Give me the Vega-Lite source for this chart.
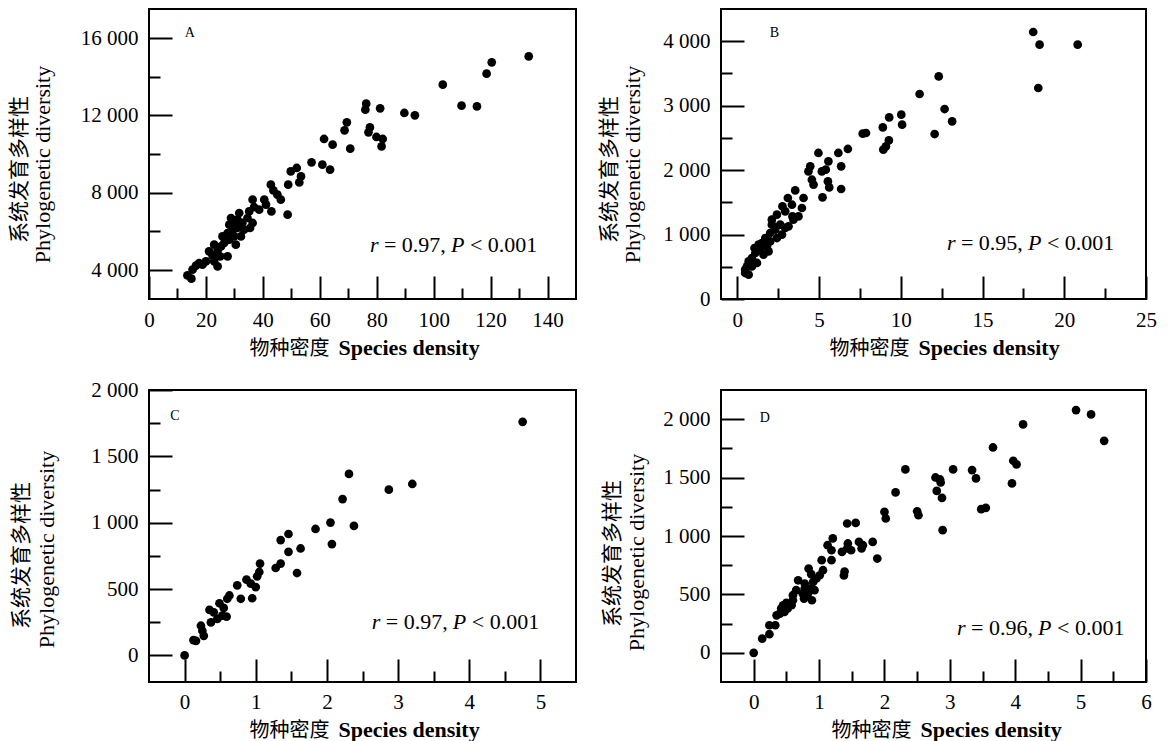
{
  "$schema": "https://vega.github.io/schema/vega-lite/v6.json",
  "background": "white",
  "padding": {"left": 7, "top": 8, "right": 5, "bottom": 5},
  "bounds": "flush",
  "columns": 2,
  "spacing": {"row": 91, "column": 145},
  "config": {
    "view": {"stroke": "black", "strokeWidth": 2},
    "axis": {"domain": false, "grid": false, "tickColor": "black", "tickWidth": 2, "labelColor": "black", "labelFont": "Liberation Serif", "labelFontSize": 21, "labelFlush": false, "labelOverlap": false, "labelBound": false, "titleColor": "black", "titleFontWeight": "normal", "titleFont": "Liberation Serif", "titleFontSize": 21},
    "text": {"color": "black", "font": "Liberation Serif"}
  },
  "concat": [
        {
          "width": 427, "height": 290,
          "resolve": {"axis": {"x": "independent", "y": "independent"}},
          "layer": [
            {
              "data": {"values": [{"x":133.4,"y":15050},{"x":120.4,"y":14740},{"x":118.6,"y":14155},{"x":103.2,"y":13586},{"x":109.8,"y":12500},{"x":115.2,"y":12460},{"x":89.7,"y":12122},{"x":93.4,"y":11998},{"x":81.2,"y":12360},{"x":76.3,"y":12604},{"x":76.0,"y":12293},{"x":69.5,"y":11636},{"x":68.7,"y":11222},{"x":77.6,"y":11377},{"x":77.1,"y":11119},{"x":79.9,"y":10881},{"x":82.1,"y":10777},{"x":81.7,"y":10394},{"x":70.7,"y":10276},{"x":61.5,"y":10777},{"x":64.5,"y":10482},{"x":57.1,"y":9567},{"x":60.9,"y":9448},{"x":63.6,"y":9189},{"x":49.8,"y":9101},{"x":51.9,"y":9277},{"x":53.4,"y":8842},{"x":52.8,"y":8532},{"x":48.9,"y":8413},{"x":42.8,"y":8413},{"x":43.7,"y":8118},{"x":45.1,"y":7896},{"x":46.3,"y":7637},{"x":48.7,"y":6861},{"x":40.5,"y":7637},{"x":41.1,"y":7378},{"x":43.0,"y":7032},{"x":36.4,"y":7637},{"x":31.7,"y":6949},{"x":35.2,"y":7032},{"x":36.9,"y":7257},{"x":38.7,"y":7120},{"x":34.6,"y":6690},{"x":36.4,"y":6432},{"x":35.5,"y":6173},{"x":33.4,"y":6085},{"x":28.2,"y":6344},{"x":29.9,"y":6432},{"x":31.1,"y":6173},{"x":29.3,"y":5997},{"x":27.6,"y":5914},{"x":29.9,"y":5739},{"x":32.3,"y":5739},{"x":28.2,"y":5568},{"x":30.5,"y":5309},{"x":26.4,"y":5397},{"x":25.3,"y":5221},{"x":24.1,"y":5014},{"x":22.9,"y":5309},{"x":21.1,"y":4962},{"x":22.3,"y":4740},{"x":27.6,"y":4704},{"x":24.1,"y":4187},{"x":20.0,"y":4445},{"x":17.6,"y":4362},{"x":16.5,"y":4223},{"x":15.3,"y":4016},{"x":13.5,"y":3721},{"x":14.9,"y":3550},{"x":25.8,"y":5739},{"x":28.8,"y":6690},{"x":31.1,"y":6602},{"x":32.8,"y":6432},{"x":25.0,"y":4704},{"x":18.8,"y":4274},{"x":22.9,"y":4445}]},
              "mark": {"type": "circle", "size": 76, "color": "black", "opacity": 1},
              "encoding": {
                "x": {"field": "x", "type": "quantitative", "scale": {"domain": [0, 150], "nice": false, "zero": false},
                  "axis": {"orient": "bottom", "values": [0,20,40,60,80,100,120,140], "format": "d", "tickSize": -23, "labelPadding": 33, "title": "物种密度", "titleFont": "Noto Sans CJK SC", "titleFontSize": 20, "titleX": 180, "titleY": 55, "titleAlign": "right", "titleBaseline": "alphabetic"}},
                "y": {"field": "y", "type": "quantitative", "scale": {"domain": [2500, 17500], "nice": false, "zero": false},
                  "axis": {"orient": "left", "values": [4000,8000,12000,16000], "labelExpr": "replace(format(datum.value, ','), ',', ' ')", "tickSize": -23, "labelPadding": 34, "title": "系统发育多样性", "titleFont": "Noto Sans CJK SC", "titleFontSize": 21, "titleX": -130, "titleY": 160, "titleAlign": "center", "titleBaseline": "middle"}}
              }
            },
            {
              "data": {"values": [{"x": 12.6, "y": 16054, "t": "A"}]},
              "mark": {"type": "text", "align": "left", "baseline": "alphabetic", "fontSize": 14, "font": "Liberation Serif", "color": "black"},
              "encoding": {
                "x": {"field": "x", "type": "quantitative", "scale": {"domain": [0, 150], "nice": false, "zero": false},
                  "axis": {"orient": "bottom", "values": [10,30,50,70,90,110,130], "tickSize": -11, "labels": false, "title": "Species density", "titleFont": "Liberation Serif", "titleFontWeight": "bold", "titleFontSize": 22, "titleX": 189, "titleY": 55, "titleAlign": "left", "titleBaseline": "alphabetic"}},
                "y": {"field": "y", "type": "quantitative", "scale": {"domain": [2500, 17500], "nice": false, "zero": false},
                  "axis": {"orient": "left", "values": [6000,10000,14000], "tickSize": -11, "labels": false, "title": "Phylogenetic diversity", "titleFont": "Liberation Serif", "titleFontSize": 22, "titleX": -107, "titleY": 155, "titleAlign": "center", "titleBaseline": "middle"}},
                "text": {"field": "t"}
              }
            },
            {
              "data": {"values": [{"x": 77.6, "y": 4950}]},
              "encoding": {
                "x": {"field": "x", "type": "quantitative", "scale": {"domain": [0, 150], "nice": false, "zero": false}, "axis": null},
                "y": {"field": "y", "type": "quantitative", "scale": {"domain": [2500, 17500], "nice": false, "zero": false}, "axis": null}
              },
              "layer": [
                {"mark": {"type": "text", "text": "r", "align": "left", "baseline": "alphabetic", "fontSize": 22, "fontStyle": "italic", "font": "Liberation Serif", "color": "black"}},
                {"mark": {"type": "text", "text": "= 0.97,", "dx": 14, "align": "left", "baseline": "alphabetic", "fontSize": 22, "font": "Liberation Serif", "color": "black"}},
                {"mark": {"type": "text", "text": "P", "dx": 81, "align": "left", "baseline": "alphabetic", "fontSize": 22, "fontStyle": "italic", "font": "Liberation Serif", "color": "black"}},
                {"mark": {"type": "text", "text": "< 0.001", "dx": 100, "align": "left", "baseline": "alphabetic", "fontSize": 22, "font": "Liberation Serif", "color": "black"}}
              ]
            }
          ]
        },
        {
          "width": 425, "height": 290,
          "resolve": {"axis": {"x": "independent", "y": "independent"}},
          "layer": [
            {
              "data": {"values": [{"x":18.10,"y":4143},{"x":18.49,"y":3946},{"x":20.82,"y":3946},{"x":18.41,"y":3274},{"x":12.32,"y":3454},{"x":11.15,"y":3181},{"x":12.68,"y":2948},{"x":13.14,"y":2756},{"x":12.07,"y":2560},{"x":10.03,"y":2860},{"x":10.08,"y":2705},{"x":9.29,"y":2818},{"x":8.90,"y":2663},{"x":9.27,"y":2461},{"x":8.93,"y":2317},{"x":9.09,"y":2368},{"x":7.67,"y":2565},{"x":7.87,"y":2576},{"x":4.96,"y":2266},{"x":5.57,"y":2136},{"x":6.18,"y":2266},{"x":6.76,"y":2328},{"x":6.35,"y":2058},{"x":4.46,"y":2058},{"x":4.35,"y":1980},{"x":5.17,"y":1980},{"x":5.41,"y":2007},{"x":4.56,"y":1851},{"x":4.66,"y":1774},{"x":5.54,"y":1825},{"x":5.62,"y":1732},{"x":6.35,"y":1707},{"x":5.21,"y":1577},{"x":3.54,"y":1685},{"x":3.09,"y":1567},{"x":4.05,"y":1567},{"x":2.76,"y":1437},{"x":3.34,"y":1463},{"x":3.95,"y":1412},{"x":2.93,"y":1360},{"x":3.37,"y":1282},{"x":3.74,"y":1282},{"x":3.43,"y":1231},{"x":2.11,"y":1153},{"x":2.62,"y":1153},{"x":2.93,"y":1102},{"x":2.32,"y":1075},{"x":2.01,"y":1024},{"x":2.73,"y":998},{"x":2.42,"y":946},{"x":2.01,"y":894},{"x":1.50,"y":869},{"x":1.81,"y":816},{"x":1.40,"y":765},{"x":1.10,"y":714},{"x":1.60,"y":687},{"x":0.89,"y":636},{"x":0.69,"y":583},{"x":1.20,"y":559},{"x":0.59,"y":506},{"x":0.48,"y":403},{"x":0.69,"y":377},{"x":2.11,"y":1231},{"x":2.42,"y":1308},{"x":3.13,"y":1127},{"x":1.30,"y":843},{"x":1.05,"y":791},{"x":0.48,"y":455},{"x":0.89,"y":506},{"x":1.71,"y":946},{"x":1.91,"y":739}]},
              "mark": {"type": "circle", "size": 76, "color": "black", "opacity": 1},
              "encoding": {
                "x": {"field": "x", "type": "quantitative", "scale": {"domain": [-1, 25], "nice": false, "zero": false},
                  "axis": {"orient": "bottom", "values": [0,5,10,15,20,25], "format": "d", "tickSize": -23, "labelPadding": 33, "title": "物种密度", "titleFont": "Noto Sans CJK SC", "titleFontSize": 20, "titleX": 188, "titleY": 55, "titleAlign": "right", "titleBaseline": "alphabetic"}},
                "y": {"field": "y", "type": "quantitative", "scale": {"domain": [0, 4500], "nice": false, "zero": false},
                  "axis": {"orient": "left", "values": [0,1000,2000,3000,4000], "labelExpr": "replace(format(datum.value, ','), ',', ' ')", "tickSize": -23, "labelPadding": 34, "title": "系统发育多样性", "titleFont": "Noto Sans CJK SC", "titleFontSize": 21, "titleX": -112, "titleY": 160, "titleAlign": "center", "titleBaseline": "middle"}}
              }
            },
            {
              "data": {"values": [{"x": 1.98, "y": 4066, "t": "B"}]},
              "mark": {"type": "text", "align": "left", "baseline": "alphabetic", "fontSize": 14, "font": "Liberation Serif", "color": "black"},
              "encoding": {
                "x": {"field": "x", "type": "quantitative", "scale": {"domain": [-1, 25], "nice": false, "zero": false},
                  "axis": {"orient": "bottom", "values": [2.5,7.5,12.5,17.5,22.5], "tickSize": -11, "labels": false, "title": "Species density", "titleFont": "Liberation Serif", "titleFontWeight": "bold", "titleFontSize": 22, "titleX": 197, "titleY": 55, "titleAlign": "left", "titleBaseline": "alphabetic"}},
                "y": {"field": "y", "type": "quantitative", "scale": {"domain": [0, 4500], "nice": false, "zero": false},
                  "axis": {"orient": "left", "values": [500,1500,2500,3500], "tickSize": -11, "labels": false, "title": "Phylogenetic diversity", "titleFont": "Liberation Serif", "titleFontSize": 22, "titleX": -89, "titleY": 155, "titleAlign": "center", "titleBaseline": "middle"}},
                "text": {"field": "t"}
              }
            },
            {
              "data": {"values": [{"x": 12.82, "y": 765}]},
              "encoding": {
                "x": {"field": "x", "type": "quantitative", "scale": {"domain": [-1, 25], "nice": false, "zero": false}, "axis": null},
                "y": {"field": "y", "type": "quantitative", "scale": {"domain": [0, 4500], "nice": false, "zero": false}, "axis": null}
              },
              "layer": [
                {"mark": {"type": "text", "text": "r", "align": "left", "baseline": "alphabetic", "fontSize": 22, "fontStyle": "italic", "font": "Liberation Serif", "color": "black"}},
                {"mark": {"type": "text", "text": "= 0.95,", "dx": 14, "align": "left", "baseline": "alphabetic", "fontSize": 22, "font": "Liberation Serif", "color": "black"}},
                {"mark": {"type": "text", "text": "P", "dx": 81, "align": "left", "baseline": "alphabetic", "fontSize": 22, "fontStyle": "italic", "font": "Liberation Serif", "color": "black"}},
                {"mark": {"type": "text", "text": "< 0.001", "dx": 100, "align": "left", "baseline": "alphabetic", "fontSize": 22, "font": "Liberation Serif", "color": "black"}}
              ]
            }
          ]
        },
        {
          "width": 427, "height": 292,
          "resolve": {"axis": {"x": "independent", "y": "independent"}},
          "layer": [
            {
              "data": {"values": [{"x":4.75,"y":1760},{"x":3.20,"y":1292},{"x":2.87,"y":1249},{"x":2.31,"y":1368},{"x":2.22,"y":1178},{"x":2.38,"y":976},{"x":0,"y":0},{"x":0.125,"y":115},{"x":0.16,"y":110},{"x":0.25,"y":186},{"x":0.23,"y":224},{"x":0.27,"y":148},{"x":0.35,"y":343},{"x":0.41,"y":325},{"x":0.37,"y":249},{"x":0.46,"y":275},{"x":0.49,"y":393},{"x":0.55,"y":358},{"x":0.53,"y":300},{"x":0.59,"y":292},{"x":0.63,"y":452},{"x":0.60,"y":427},{"x":0.74,"y":528},{"x":0.79,"y":427},{"x":0.87,"y":571},{"x":0.93,"y":541},{"x":0.95,"y":431},{"x":1.00,"y":515},{"x":1.02,"y":596},{"x":1.05,"y":629},{"x":1.06,"y":692},{"x":1.28,"y":659},{"x":1.35,"y":692},{"x":1.35,"y":869},{"x":1.46,"y":915},{"x":1.46,"y":781},{"x":1.58,"y":621},{"x":1.63,"y":806},{"x":1.84,"y":953},{"x":2.05,"y":1001},{"x":2.07,"y":839}]},
              "mark": {"type": "circle", "size": 76, "color": "black", "opacity": 1},
              "encoding": {
                "x": {"field": "x", "type": "quantitative", "scale": {"domain": [-0.5, 5.5], "nice": false, "zero": false},
                  "axis": {"orient": "bottom", "values": [0,1,2,3,4,5], "format": "d", "tickSize": -23, "labelPadding": 32, "title": "物种密度", "titleFont": "Noto Sans CJK SC", "titleFontSize": 20, "titleX": 180, "titleY": 54, "titleAlign": "right", "titleBaseline": "alphabetic"}},
                "y": {"field": "y", "type": "quantitative", "scale": {"domain": [-200, 2000], "nice": false, "zero": false},
                  "axis": {"orient": "left", "values": [0,500,1000,1500,2000], "labelExpr": "replace(format(datum.value, ','), ',', ' ')", "tickSize": -23, "labelPadding": 34, "title": "系统发育多样性", "titleFont": "Noto Sans CJK SC", "titleFontSize": 21, "titleX": -128, "titleY": 165, "titleAlign": "center", "titleBaseline": "middle"}}
              }
            },
            {
              "data": {"values": [{"x": -0.2, "y": 1775, "t": "C"}]},
              "mark": {"type": "text", "align": "left", "baseline": "alphabetic", "fontSize": 14, "font": "Liberation Serif", "color": "black"},
              "encoding": {
                "x": {"field": "x", "type": "quantitative", "scale": {"domain": [-0.5, 5.5], "nice": false, "zero": false},
                  "axis": {"orient": "bottom", "values": [0.5,1.5,2.5,3.5,4.5], "tickSize": -11, "labels": false, "title": "Species density", "titleFont": "Liberation Serif", "titleFontWeight": "bold", "titleFontSize": 22, "titleX": 189, "titleY": 54, "titleAlign": "left", "titleBaseline": "alphabetic"}},
                "y": {"field": "y", "type": "quantitative", "scale": {"domain": [-200, 2000], "nice": false, "zero": false},
                  "axis": {"orient": "left", "values": [250,750,1250,1750], "tickSize": -11, "labels": false, "title": "Phylogenetic diversity", "titleFont": "Liberation Serif", "titleFontSize": 22, "titleX": -103, "titleY": 159, "titleAlign": "center", "titleBaseline": "middle"}},
                "text": {"field": "t"}
              }
            },
            {
              "data": {"values": [{"x": 2.63, "y": 199}]},
              "encoding": {
                "x": {"field": "x", "type": "quantitative", "scale": {"domain": [-0.5, 5.5], "nice": false, "zero": false}, "axis": null},
                "y": {"field": "y", "type": "quantitative", "scale": {"domain": [-200, 2000], "nice": false, "zero": false}, "axis": null}
              },
              "layer": [
                {"mark": {"type": "text", "text": "r", "align": "left", "baseline": "alphabetic", "fontSize": 22, "fontStyle": "italic", "font": "Liberation Serif", "color": "black"}},
                {"mark": {"type": "text", "text": "= 0.97,", "dx": 14, "align": "left", "baseline": "alphabetic", "fontSize": 22, "font": "Liberation Serif", "color": "black"}},
                {"mark": {"type": "text", "text": "P", "dx": 81, "align": "left", "baseline": "alphabetic", "fontSize": 22, "fontStyle": "italic", "font": "Liberation Serif", "color": "black"}},
                {"mark": {"type": "text", "text": "< 0.001", "dx": 100, "align": "left", "baseline": "alphabetic", "fontSize": 22, "font": "Liberation Serif", "color": "black"}}
              ]
            }
          ]
        },
        {
          "width": 425, "height": 292,
          "resolve": {"axis": {"x": "independent", "y": "independent"}},
          "layer": [
            {
              "data": {"values": [{"x":4.93,"y":2078},{"x":5.16,"y":2041},{"x":5.36,"y":1815},{"x":4.12,"y":1955},{"x":3.66,"y":1758},{"x":3.97,"y":1644},{"x":4.02,"y":1613},{"x":3.95,"y":1450},{"x":3.34,"y":1564},{"x":3.40,"y":1493},{"x":3.48,"y":1230},{"x":3.55,"y":1241},{"x":3.05,"y":1570},{"x":2.78,"y":1501},{"x":2.85,"y":1484},{"x":2.86,"y":1458},{"x":2.80,"y":1386},{"x":2.88,"y":1326},{"x":2.89,"y":1050},{"x":2.32,"y":1570},{"x":2.17,"y":1373},{"x":2.50,"y":1212},{"x":2.52,"y":1178},{"x":0,"y":0},{"x":0.13,"y":122},{"x":0.24,"y":159},{"x":0.24,"y":236},{"x":0.33,"y":236},{"x":0.35,"y":321},{"x":0.40,"y":336},{"x":0.45,"y":407},{"x":0.47,"y":350},{"x":0.50,"y":427},{"x":0.58,"y":407},{"x":0.60,"y":450},{"x":0.52,"y":379},{"x":0.42,"y":379},{"x":0.65,"y":536},{"x":0.60,"y":493},{"x":0.68,"y":621},{"x":0.78,"y":593},{"x":0.75,"y":507},{"x":0.77,"y":464},{"x":0.83,"y":507},{"x":0.78,"y":550},{"x":0.86,"y":550},{"x":0.84,"y":721},{"x":0.88,"y":673},{"x":0.91,"y":607},{"x":0.89,"y":450},{"x":0.93,"y":536},{"x":0.96,"y":636},{"x":1.01,"y":664},{"x":1.04,"y":793},{"x":1.06,"y":707},{"x":1.13,"y":921},{"x":1.19,"y":878},{"x":1.21,"y":979},{"x":1.19,"y":793},{"x":1.35,"y":864},{"x":1.39,"y":696},{"x":1.38,"y":662},{"x":1.43,"y":893},{"x":1.43,"y":1107},{"x":1.56,"y":1112},{"x":1.44,"y":936},{"x":1.49,"y":878},{"x":1.61,"y":949},{"x":1.65,"y":893},{"x":1.67,"y":921},{"x":1.82,"y":949},{"x":1.89,"y":807},{"x":2.00,"y":1206},{"x":2.02,"y":1150}]},
              "mark": {"type": "circle", "size": 76, "color": "black", "opacity": 1},
              "encoding": {
                "x": {"field": "x", "type": "quantitative", "scale": {"domain": [-0.5, 6], "nice": false, "zero": false},
                  "axis": {"orient": "bottom", "values": [0,1,2,3,4,5,6], "format": "d", "tickSize": -23, "labelPadding": 32, "title": "物种密度", "titleFont": "Noto Sans CJK SC", "titleFontSize": 20, "titleX": 190, "titleY": 54, "titleAlign": "right", "titleBaseline": "alphabetic"}},
                "y": {"field": "y", "type": "quantitative", "scale": {"domain": [-250, 2250], "nice": false, "zero": false},
                  "axis": {"orient": "left", "values": [0,500,1000,1500,2000], "labelExpr": "replace(format(datum.value, ','), ',', ' ')", "tickSize": -23, "labelPadding": 34, "title": "系统发育多样性", "titleFont": "Noto Sans CJK SC", "titleFontSize": 21, "titleX": -109, "titleY": 163, "titleAlign": "center", "titleBaseline": "middle"}}
              }
            },
            {
              "data": {"values": [{"x": 0.093, "y": 1978, "t": "D"}]},
              "mark": {"type": "text", "align": "left", "baseline": "alphabetic", "fontSize": 14, "font": "Liberation Serif", "color": "black"},
              "encoding": {
                "x": {"field": "x", "type": "quantitative", "scale": {"domain": [-0.5, 6], "nice": false, "zero": false},
                  "axis": {"orient": "bottom", "values": [0.5,1.5,2.5,3.5,4.5,5.5], "tickSize": -11, "labels": false, "title": "Species density", "titleFont": "Liberation Serif", "titleFontWeight": "bold", "titleFontSize": 22, "titleX": 199, "titleY": 54, "titleAlign": "left", "titleBaseline": "alphabetic"}},
                "y": {"field": "y", "type": "quantitative", "scale": {"domain": [-250, 2250], "nice": false, "zero": false},
                  "axis": {"orient": "left", "values": [250,750,1250,1750], "tickSize": -11, "labels": false, "title": "Phylogenetic diversity", "titleFont": "Liberation Serif", "titleFontSize": 22, "titleX": -85, "titleY": 162, "titleAlign": "center", "titleBaseline": "middle"}},
                "text": {"field": "t"}
              }
            },
            {
              "data": {"values": [{"x": 3.11, "y": 150}]},
              "encoding": {
                "x": {"field": "x", "type": "quantitative", "scale": {"domain": [-0.5, 6], "nice": false, "zero": false}, "axis": null},
                "y": {"field": "y", "type": "quantitative", "scale": {"domain": [-250, 2250], "nice": false, "zero": false}, "axis": null}
              },
              "layer": [
                {"mark": {"type": "text", "text": "r", "align": "left", "baseline": "alphabetic", "fontSize": 22, "fontStyle": "italic", "font": "Liberation Serif", "color": "black"}},
                {"mark": {"type": "text", "text": "= 0.96,", "dx": 14, "align": "left", "baseline": "alphabetic", "fontSize": 22, "font": "Liberation Serif", "color": "black"}},
                {"mark": {"type": "text", "text": "P", "dx": 81, "align": "left", "baseline": "alphabetic", "fontSize": 22, "fontStyle": "italic", "font": "Liberation Serif", "color": "black"}},
                {"mark": {"type": "text", "text": "< 0.001", "dx": 100, "align": "left", "baseline": "alphabetic", "fontSize": 22, "font": "Liberation Serif", "color": "black"}}
              ]
            }
          ]
        }
  ]
}
